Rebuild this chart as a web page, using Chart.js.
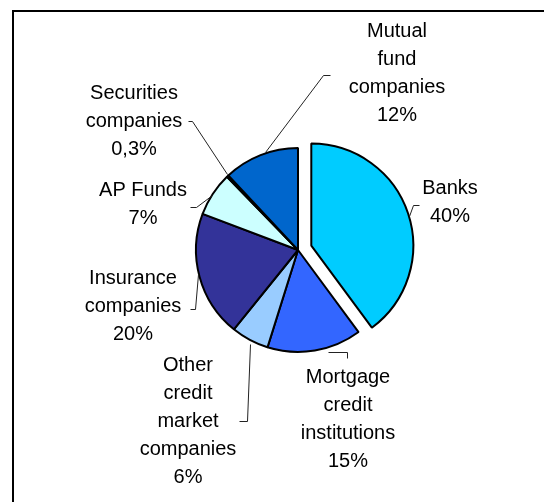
<!DOCTYPE html>
<html>
<head>
<meta charset="utf-8">
<script src="https://cdn.jsdelivr.net/npm/chart.js@4"></script>
<style>
  html, body { margin: 0; padding: 0; background: #fff; }
  canvas { display: block; }
</style>
</head>
<body>
<canvas id="c" width="544" height="502"></canvas>
<script>
// ---- data ----
const categories = ["Banks", "Mortgage credit institutions", "Other credit market companies",
  "Insurance companies", "AP Funds", "Securities companies", "Mutual fund companies"];
const shares = [40, 15, 6, 20, 7, 0.3, 12];
const shareLabels = ["40%", "15%", "6%", "20%", "7%", "0,3%", "12%"];
const labelLines = [
  ["Banks"],
  ["Mortgage", "credit", "institutions"],
  ["Other", "credit", "market", "companies"],
  ["Insurance", "companies"],
  ["AP Funds"],
  ["Securities", "companies"],
  ["Mutual", "fund", "companies"]
];

// ---- styles / layout ----
const colors = ["#00CCFF", "#3366FF", "#99CCFF", "#333399", "#CCFFFF", "#339999", "#0066CC"];
const explode = [14, 0, 0, 0, 0, 0, 0];
// label text anchors (center x, first line y) relative to pie centre
const textPos = [[152, -62], [50, 127], [-110, 115], [-165, 28], [-155, -60], [-164, -157], [99, -219]];
// leader polylines relative to pie centre
const leaders = [
  [[111, -34], [115, -45], [121, -45]],
  [[30, 102], [49, 102], [49, 108]],
  [[-48, 94], [-51, 171], [-59, 171]],
  [[-100, 24], [-103, 59], [-108, 59]],
  [[-86, -55], [-102, -43], [-108, -43]],
  [[-71, -76], [-106, -129], [-110, -129]],
  [[-33, -98], [25, -175], [32, -175]]
];
const FONT = '20px "Liberation Sans", Arial, sans-serif';
const LINE_H = 28;

const explodePlugin = {
  id: 'explode',
  afterDatasetUpdate(chart, args) {
    const meta = args.meta;
    meta.data.forEach((arc, i) => {
      const d = explode[i] || 0;
      if (!d) return;
      const mid = (arc.startAngle + arc.endAngle) / 2;
      arc.x += d * Math.cos(mid);
      arc.y += d * Math.sin(mid);
    });
  }
};

const framePlugin = {
  id: 'frame',
  beforeDraw(chart) {
    const ctx = chart.ctx;
    ctx.save();
    ctx.strokeStyle = '#000';
    ctx.lineWidth = 2;
    ctx.beginPath();
    ctx.moveTo(13, chart.height);
    ctx.lineTo(13, 11);
    ctx.lineTo(chart.width, 11);
    ctx.stroke();
    ctx.restore();
  }
};

const labelPlugin = {
  id: 'pieLabels',
  afterDraw(chart) {
    const ctx = chart.ctx;
    const meta = chart.getDatasetMeta(0);
    const ref = meta.data[1];
    const cx = ref.x, cy = ref.y;
    ctx.save();
    // leaders
    ctx.strokeStyle = '#222';
    ctx.lineWidth = 1;
    leaders.forEach(pts => {
      ctx.beginPath();
      pts.forEach((p, k) => {
        const x = Math.round(cx + p[0]) + 0.5, y = Math.round(cy + p[1]) + 0.5;
        if (k === 0) ctx.moveTo(x, y); else ctx.lineTo(x, y);
      });
      ctx.stroke();
    });
    // texts
    ctx.fillStyle = '#000';
    ctx.font = FONT;
    ctx.textAlign = 'center';
    ctx.textBaseline = 'middle';
    categories.forEach((c, i) => {
      const lines = labelLines[i].concat([shareLabels[i]]);
      const tx = cx + textPos[i][0];
      let ty = cy + textPos[i][1];
      lines.forEach((ln, k) => ctx.fillText(ln, tx, ty + k * LINE_H));
    });
    ctx.restore();
  }
};

new Chart(document.getElementById('c'), {
  type: 'pie',
  data: {
    labels: categories,
    datasets: [{
      data: shares,
      backgroundColor: colors,
      borderColor: '#000',
      borderWidth: 2
    }]
  },
  options: {
    responsive: false,
    devicePixelRatio: 1,
    animation: false,
    radius: 102,
    layout: { padding: { left: 52, right: 0, top: 0, bottom: 2 } },
    plugins: { legend: { display: false }, tooltip: { enabled: false } }
  },
  plugins: [framePlugin, explodePlugin, labelPlugin]
});
</script>
</body>
</html>
